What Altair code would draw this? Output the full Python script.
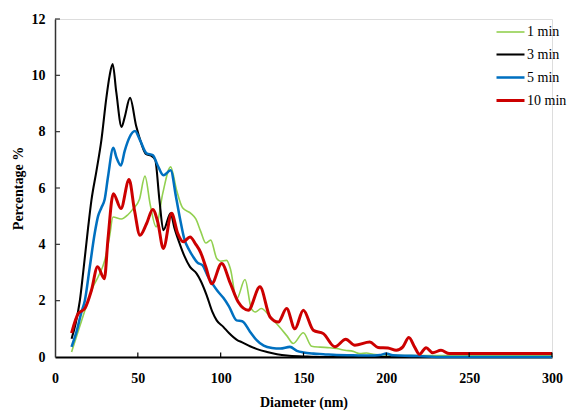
import altair as alt
import pandas as pd

series_names = ["1 min", "3 min", "5 min", "10 min"]
series_colors = ["#92D050", "#000000", "#0070C0", "#CC0000"]
series_widths = [1.6, 3.0, 2.0, 2.4]

# 1 min (green)
g_x = [10, 15, 20, 23, 26, 30, 33, 35, 40, 44, 47, 51, 54.3, 57.5, 61, 65, 69.8, 73.4, 77, 82, 85, 88, 91, 94, 97.6, 100, 103.6, 106, 109.6, 114.7, 118.5, 121, 124.5, 130, 135, 140, 143.8, 149.9, 154.9, 160, 166, 170, 175, 180, 184, 188, 192, 200, 220, 250, 300]
g_y = [0.18, 1.1, 2.0, 2.5, 2.84, 3.43, 4.3, 4.97, 4.9, 5.05, 5.25, 5.6, 6.42, 5.4, 4.62, 5.8, 6.75, 5.92, 5.3, 5.1, 4.9, 4.45, 4.05, 4.15, 3.5, 3.4, 3.43, 3.1, 2.05, 2.75, 1.72, 1.6, 1.72, 1.42, 1.1, 0.75, 0.48, 0.86, 0.38, 0.35, 0.33, 0.3, 0.24, 0.2, 0.12, 0.14, 0.1, 0.07, 0.05, 0.05, 0.05]

# 3 min (black)
k_x = [10, 12.5, 15, 17, 20, 22, 25, 28, 31, 33, 34.8, 37, 40.2, 42, 45.3, 49, 52, 55, 58, 60.5, 63, 65.4, 69.8, 72, 75.4, 78, 81.5, 85.5, 88, 91.5, 95, 97.6, 101.6, 105, 110, 113, 117.7, 122, 128, 134, 140, 150, 160, 300]
k_y = [0.65, 1.2, 2.0, 3.0, 4.6, 5.57, 6.6, 7.7, 9.2, 10.0, 10.4, 9.4, 8.17, 8.5, 9.2, 8.2, 7.6, 7.2, 7.15, 7.0, 5.6, 4.5, 5.1, 4.6, 4.0, 3.6, 3.2, 2.96, 2.7, 2.2, 1.6, 1.3, 1.07, 0.85, 0.6, 0.52, 0.38, 0.28, 0.18, 0.1, 0.05, 0.02, 0.0, 0.0]

# 5 min (blue)
b_x = [10, 13, 16, 18, 21, 24, 26, 28, 30, 32, 35.2, 37, 39.8, 42, 45, 48.3, 51.3, 55.3, 59, 62, 65.4, 69.8, 73, 75.5, 78, 81, 83.5, 86, 89, 92, 95.6, 98, 101.6, 105, 109.6, 113, 117.7, 121.7, 126, 131, 136, 141.8, 146, 150, 156, 162, 170, 180, 190, 196, 200, 204, 215, 225, 232, 300]
b_y = [0.36, 0.9, 1.6, 2.0, 3.2, 4.4, 5.0, 5.3, 5.6, 6.4, 7.43, 7.1, 6.8, 7.3, 7.8, 8.02, 7.7, 7.23, 7.17, 6.8, 6.45, 6.63, 5.7, 4.9, 4.2, 3.8, 3.55, 3.35, 3.26, 2.9, 2.55, 2.35, 2.1, 1.8, 1.3, 1.27, 0.9, 0.6, 0.4, 0.32, 0.3, 0.36, 0.22, 0.16, 0.12, 0.1, 0.07, 0.06, 0.05, 0.07, 0.12, 0.06, 0.04, 0.02, 0.0, 0.0]

# 10 min (red)
r_x = [10, 14, 18, 22, 25.7, 29.8, 32, 35.2, 39.8, 44.7, 48, 51.3, 55.3, 59, 62, 65.4, 70.4, 74, 77.4, 81.5, 85, 88, 91, 94.6, 100.6, 105.6, 110.6, 116.7, 123.7, 129.8, 134.8, 139.8, 144.8, 149.9, 155.9, 162, 169, 175.5, 181, 190, 195, 201, 206, 210, 213.6, 217, 220, 224, 228, 233, 238, 250, 300]
r_y = [0.85, 1.54, 1.72, 2.37, 3.2, 2.78, 4.2, 5.8, 5.27, 6.3, 5.2, 4.32, 4.74, 5.24, 4.8, 3.85, 5.1, 4.4, 4.09, 4.26, 4.0, 3.7, 3.2, 2.6, 3.32, 2.65, 1.95, 1.66, 2.49, 1.42, 1.24, 1.72, 1.0, 1.66, 0.95, 0.83, 0.36, 0.63, 0.42, 0.53, 0.34, 0.32, 0.24, 0.36, 0.69, 0.36, 0.1, 0.33, 0.15, 0.24, 0.12, 0.12, 0.12]

x_ticks = [0, 50, 100, 150, 200, 250, 300]
y_ticks = [0, 2, 4, 6, 8, 10, 12]

rows = []
for name, xs, ys in [("1 min", g_x, g_y), ("3 min", k_x, k_y), ("5 min", b_x, b_y), ("10 min", r_x, r_y)]:
    for xv, yv in zip(xs, ys):
        rows.append({"series": name, "d": xv, "v": yv})
df = pd.DataFrame(rows)

FONT = "Liberation Serif"

x_scale = alt.Scale(domain=[0, 300], nice=False)
y_scale = alt.Scale(domain=[0, 12], nice=False)

lines = alt.Chart(df).mark_line(interpolate="monotone").encode(
    x=alt.X("d:Q", scale=x_scale,
            axis=alt.Axis(values=x_ticks, title="Diameter (nm)", ticks=False, grid=False,
                          labelPadding=14, labelFlush=False, domainColor="black", domainWidth=2,
                          labelFont=FONT, labelFontSize=14, labelFontWeight="bold", labelColor="black",
                          titleFont=FONT, titleFontSize=14, titleFontWeight="bold", titleColor="black",
                          titleY=38, titleBaseline="top")),
    y=alt.Y("v:Q", scale=y_scale,
            axis=alt.Axis(values=y_ticks, title="Percentage %", ticks=False, grid=False,
                          labelPadding=10, labelFlush=False, domainColor="#333333", domainWidth=1.5,
                          labelFont=FONT, labelFontSize=14, labelFontWeight="bold", labelColor="black",
                          titleFont=FONT, titleFontSize=14, titleFontWeight="bold", titleColor="black",
                          titleX=-37, titleY=169, titleAlign="center", titleBaseline="middle")),
    color=alt.Color("series:N", scale=alt.Scale(domain=series_names, range=series_colors),
                    legend=alt.Legend(title=None, orient="none", legendX=440, legendY=-2,
                                      symbolType="stroke", symbolSize=784, rowPadding=0,
                                      labelFont=FONT, labelFontSize=14, labelColor="black",
                                      labelOffset=1)),
    strokeWidth=alt.StrokeWidth("series:N", scale=alt.Scale(domain=series_names, range=series_widths),
                                legend=alt.Legend(title=None, orient="none", legendX=440, legendY=-2)),
)

xt = pd.DataFrame({"d": x_ticks[1:]})
yt = pd.DataFrame({"v": y_ticks[1:]})

xtick_marks = alt.Chart(xt).mark_rule(color="black", strokeWidth=1.2).encode(
    x=alt.X("d:Q", scale=x_scale), y=alt.datum(0), y2=alt.datum(0.16))
ytick_marks = alt.Chart(yt).mark_rule(color="#333333", strokeWidth=1.2).encode(
    y=alt.Y("v:Q", scale=y_scale), x=alt.datum(0), x2=alt.datum(3))

chart = alt.layer(lines, xtick_marks, ytick_marks).properties(
    width=497, height=338,
    autosize=alt.AutoSizeParams(type="none"),
    padding={"left": 55, "top": 19, "right": 17, "bottom": 53},
).configure_view(stroke=None).configure(background="white")

chart.save("out.html", embed_options={"renderer": "svg", "actions": False})
